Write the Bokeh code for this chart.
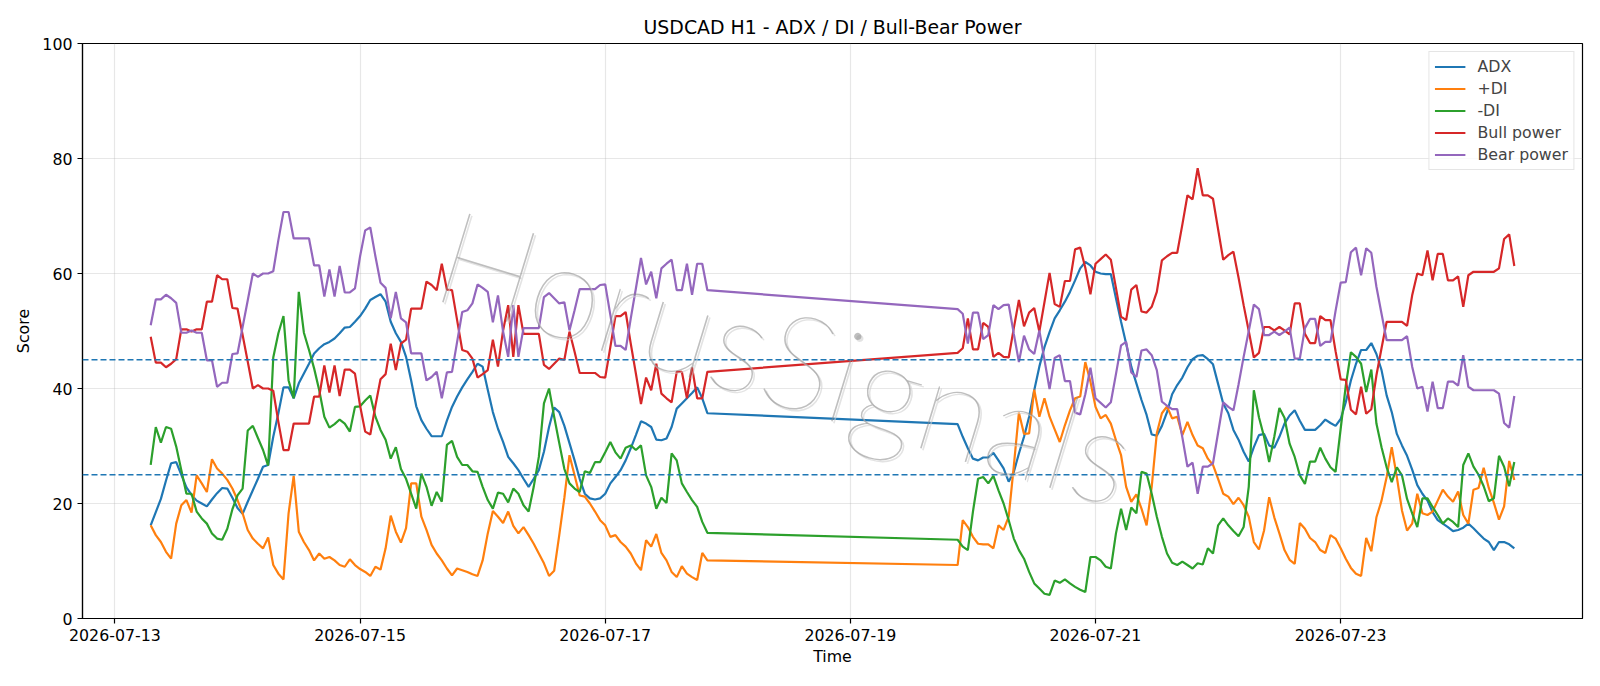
import pandas as pd
from bokeh.plotting import figure
from bokeh.models import Range1d, FixedTicker, DatetimeTickFormatter, Span, Label
from bokeh.embed import file_html
from bokeh.resources import INLINE

# ---------------- data ----------------
chart_title = "USDCAD H1 - ADX / DI / Bull-Bear Power"
series_names = ["ADX", "+DI", "-DI", "Bull power", "Bear power"]
series_colors = ["#1f77b4", "#ff7f0e", "#2ca02c", "#d62728", "#9467bd"]
watermark_text = "HorusSignals"

# hourly bars: weekday session 1 and session 2 (weekend gap between)
seg1_start = "2026-07-13 07:00"
seg2_start = "2026-07-19 21:00"

adx1 = [16.2, 18.5, 20.8, 24.0, 27.0, 27.2, 25.0, 22.8, 21.5, 20.5,
        20.0, 19.5, 20.7, 21.8, 22.7, 22.6, 21.0, 19.2, 18.2, 20.3,
        22.3, 24.3, 26.4, 26.7, 31.6, 35.7, 40.2, 40.2, 38.3, 40.9,
        42.6, 44.3, 46.1, 47.0, 47.7, 48.1, 48.7, 49.6, 50.6, 50.7,
        51.6, 52.6, 53.9, 55.4, 55.9, 56.4, 55.1, 51.6, 49.6, 48.1,
        45.5, 41.4, 36.9, 34.5, 33.0, 31.7, 31.7, 31.7, 34.4, 36.8,
        38.6, 40.2, 41.6, 42.9, 44.3, 43.8, 39.8, 35.9, 33.0, 30.7,
        28.1, 27.0, 25.8, 24.3, 22.9, 24.3, 25.8, 29.0, 33.3, 36.7,
        35.9, 33.5, 30.5, 27.5, 24.3, 21.7, 20.9, 20.7, 20.9, 21.7,
        23.5, 24.6, 25.8, 27.5, 29.6, 31.9, 34.3, 33.9, 33.3, 31.1,
        31.0, 31.3, 33.3, 36.5, 37.4, 38.3, 39.2, 40.2, 38.3, 35.7]
adx2 = [33.8, 31.6, 29.6, 27.8, 27.5, 28.0, 28.0, 28.8, 27.5, 26.1,
        23.8, 25.5, 28.7, 31.6, 35.1, 39.7, 43.8, 47.2, 49.8, 52.2,
        53.6, 55.1, 56.8, 58.8, 60.9, 62.0, 61.4, 60.3, 60.0, 59.9,
        59.9, 55.7, 51.6, 47.8, 43.8, 40.9, 38.0, 35.4, 32.0, 31.8,
        33.5, 35.9, 39.0, 40.6, 41.9, 43.7, 45.1, 45.7, 45.8, 45.1,
        44.2, 40.8, 37.4, 35.7, 32.8, 31.1, 29.0, 27.3, 29.8, 31.9,
        32.1, 30.1, 29.7, 31.6, 33.9, 35.3, 36.2, 34.4, 32.8, 32.8,
        32.8, 33.6, 34.6, 34.0, 33.5, 34.7, 37.6, 41.4, 44.3, 46.7,
        46.7, 47.9, 46.0, 43.2, 38.8, 35.9, 32.1, 30.1, 28.3, 25.9,
        23.2, 21.7, 20.5, 18.5, 17.1, 16.5, 15.9, 15.2, 15.4, 15.8,
        16.5, 15.7, 14.8, 13.9, 13.3, 11.9, 13.3, 13.3, 12.9, 12.2]

pdi1 = [16.2, 14.5, 13.3, 11.6, 10.4, 16.5, 19.7, 20.6, 18.4, 24.9,
        23.5, 22.0, 27.7, 26.1, 25.2, 24.1, 22.6, 20.6, 18.3, 15.4,
        13.9, 13.0, 12.2, 14.1, 9.3, 7.8, 6.8, 18.3, 24.8, 15.1,
        13.3, 11.9, 10.1, 11.3, 10.4, 10.7, 10.1, 9.3, 9.0, 10.3,
        9.3, 8.6, 8.1, 7.4, 9.0, 8.5, 12.2, 17.9, 15.1, 13.2,
        15.7, 23.5, 23.5, 17.7, 15.4, 12.8, 11.3, 10.1, 8.7, 7.5,
        8.7, 8.4, 8.1, 7.7, 7.4, 10.1, 14.8, 18.7, 17.7, 16.6,
        18.6, 16.1, 14.8, 15.9, 14.5, 13.0, 11.3, 9.6, 7.4, 8.3,
        14.5, 21.0, 28.4, 24.9, 21.4, 21.2, 20.0, 18.6, 17.1, 16.2,
        14.2, 14.5, 13.3, 12.5, 11.3, 9.6, 8.4, 13.6, 12.5, 14.7,
        11.4, 10.1, 8.1, 7.2, 9.1, 7.8, 7.2, 6.7, 11.4, 10.1]
pdi2 = [9.3, 17.1, 15.9, 14.2, 13.0, 12.9, 12.9, 12.2, 16.2, 15.4,
        17.7, 26.5, 35.8, 32.1, 32.2, 39.8, 35.1, 38.3, 35.1, 32.9,
        30.7, 33.6, 36.2, 38.3, 38.6, 44.6, 41.2, 36.8, 34.8, 35.4,
        33.9, 31.0, 28.4, 22.9, 20.3, 21.6, 19.1, 16.2, 22.9, 32.2,
        35.7, 36.9, 34.8, 35.1, 31.9, 34.2, 31.9, 30.1, 29.6, 27.8,
        26.7, 24.3, 21.7, 21.2, 19.9, 21.0, 19.7, 17.7, 13.3, 12.0,
        15.3, 21.1, 17.6, 14.8, 11.9, 10.2, 9.5, 16.6, 15.6, 14.0,
        13.3, 11.9, 11.4, 14.5, 13.9, 12.2, 10.4, 8.8, 7.8, 7.4,
        14.0, 11.7, 17.6, 20.5, 24.6, 29.8, 24.6, 18.8, 15.3, 16.5,
        21.7, 18.3, 18.0, 18.6, 20.5, 22.4, 21.2, 20.3, 22.1, 18.0,
        16.5, 22.4, 22.7, 26.2, 22.7, 20.1, 17.2, 19.5, 27.4, 24.1]

mdi1 = [26.7, 33.3, 30.6, 33.3, 33.0, 29.9, 25.8, 21.7, 21.7, 18.6,
        17.4, 16.5, 14.8, 13.9, 13.7, 15.6, 19.0, 21.4, 22.6, 32.7,
        33.5, 31.4, 29.3, 26.6, 45.4, 49.6, 52.6, 41.4, 38.3, 56.8,
        49.7, 46.7, 43.5, 39.7, 35.1, 33.2, 33.8, 34.6, 33.9, 32.5,
        36.8, 36.9, 37.9, 38.8, 35.1, 32.8, 31.1, 27.8, 29.8, 26.0,
        24.3, 21.7, 19.1, 25.2, 22.9, 19.6, 22.0, 20.3, 30.2, 30.9,
        28.1, 26.7, 26.7, 25.6, 25.5, 22.9, 20.6, 19.1, 21.9, 21.7,
        20.2, 22.6, 21.7, 19.7, 18.6, 22.9, 28.1, 37.4, 40.0, 35.1,
        30.5, 26.0, 23.5, 22.6, 22.0, 25.6, 25.3, 27.2, 27.2, 28.9,
        30.7, 28.9, 27.8, 29.7, 30.1, 29.3, 30.1, 24.9, 22.9, 19.1,
        21.0, 20.1, 28.7, 27.5, 23.5, 22.0, 20.6, 19.4, 16.8, 14.9]
mdi2 = [13.7, 12.5, 11.9, 18.6, 24.3, 24.6, 23.5, 24.8, 22.3, 20.0,
        17.1, 13.9, 11.9, 10.4, 8.1, 6.1, 5.2, 4.3, 4.1, 6.6,
        6.2, 6.8, 6.1, 5.5, 5.0, 4.6, 10.7, 10.7, 10.1, 9.0,
        8.7, 14.8, 19.1, 15.4, 19.3, 18.3, 25.5, 25.2, 21.7, 17.7,
        14.2, 11.3, 9.7, 9.3, 9.9, 9.3, 8.7, 9.6, 9.4, 12.2,
        11.3, 16.2, 17.4, 16.2, 15.2, 14.3, 15.9, 22.9, 39.7, 35.0,
        31.6, 27.2, 31.6, 36.6, 34.9, 30.4, 28.1, 24.9, 23.4, 27.3,
        27.3, 29.7, 27.8, 26.3, 25.5, 33.0, 40.5, 46.3, 45.5, 44.3,
        39.4, 43.3, 33.9, 29.8, 26.3, 23.7, 26.3, 24.9, 20.8, 18.3,
        15.9, 20.9, 20.9, 19.4, 18.0, 16.5, 17.4, 16.8, 15.9, 26.7,
        28.7, 26.4, 25.0, 23.0, 20.4, 20.9, 28.3, 26.4, 23.0, 27.2]

bull1 = [49.0, 44.5, 44.5, 43.7, 44.3, 45.1, 50.3, 50.3, 49.9, 50.3,
         50.3, 55.1, 55.1, 59.7, 59.0, 59.0, 54.0, 53.9, 49.3, 44.7,
         40.0, 40.6, 40.0, 40.0, 39.6, 34.2, 29.3, 29.3, 33.9, 33.9,
         33.9, 33.9, 38.6, 38.6, 44.0, 39.3, 44.0, 38.7, 43.3, 43.3,
         42.6, 37.0, 32.5, 32.0, 37.0, 41.6, 42.5, 47.8, 43.2, 47.8,
         48.5, 53.9, 53.9, 53.9, 58.6, 58.0, 57.1, 61.7, 57.2, 57.1,
         51.9, 46.7, 46.4, 45.2, 41.9, 42.5, 43.2, 48.5, 43.8, 50.1,
         54.5, 45.5, 54.5, 49.5, 49.5, 49.5, 49.5, 44.1, 43.4, 44.3,
         45.2, 45.0, 49.9, 46.4, 42.7, 42.7, 42.7, 42.7, 42.0, 41.9,
         47.2, 52.6, 52.6, 53.3, 47.8, 42.6, 37.3, 41.9, 39.7, 44.3,
         39.1, 38.3, 37.6, 42.9, 42.9, 38.3, 43.7, 38.3, 38.3, 42.9]
bull2 = [46.2, 47.0, 52.2, 46.8, 46.8, 51.4, 50.7, 45.5, 46.2, 45.5,
         45.4, 50.5, 55.4, 50.8, 53.2, 54.0, 49.9, 55.0, 60.1, 54.7,
         54.2, 58.7, 58.7, 64.2, 64.5, 61.0, 56.4, 61.7, 62.5, 63.3,
         62.4, 57.5, 52.5, 51.9, 57.2, 58.0, 53.4, 53.2, 54.2, 56.8,
         62.3, 63.0, 63.6, 63.6, 68.5, 73.6, 72.9, 78.3, 73.6, 73.6,
         73.0, 67.7, 62.4, 63.2, 63.8, 59.3, 54.5, 50.0, 45.4, 46.2,
         50.7, 50.7, 50.1, 50.7, 50.1, 49.4, 54.8, 54.8, 49.5, 47.9,
         47.9, 52.6, 51.9, 51.9, 46.5, 41.6, 41.5, 36.3, 35.5, 40.3,
         35.6, 36.4, 42.3, 47.0, 51.6, 51.6, 51.6, 51.6, 50.9, 56.2,
         60.0, 59.7, 64.0, 58.8, 63.4, 63.4, 58.8, 58.8, 59.5, 54.2,
         59.7, 60.3, 60.3, 60.3, 60.3, 60.3, 60.9, 66.0, 66.8, 61.3]

bear1 = [51.0, 55.5, 55.5, 56.3, 55.7, 54.9, 49.7, 49.7, 50.1, 49.7,
         49.7, 44.9, 44.9, 40.3, 41.0, 41.0, 46.0, 46.1, 50.7, 55.3,
         60.0, 59.4, 60.0, 60.0, 60.4, 65.8, 70.7, 70.7, 66.1, 66.1,
         66.1, 66.1, 61.4, 61.4, 56.0, 60.7, 56.0, 61.3, 56.7, 56.7,
         57.4, 63.0, 67.5, 68.0, 63.0, 58.4, 57.5, 52.2, 56.8, 52.2,
         51.5, 46.1, 46.1, 46.1, 41.4, 42.0, 42.9, 38.3, 42.8, 42.9,
         48.1, 53.3, 53.6, 54.8, 58.1, 57.5, 56.8, 51.5, 56.2, 49.9,
         45.5, 54.5, 45.5, 50.5, 50.5, 50.5, 50.5, 55.9, 56.6, 55.7,
         54.8, 55.0, 50.1, 53.6, 57.3, 57.3, 57.3, 57.3, 58.0, 58.1,
         52.8, 47.4, 47.4, 46.7, 52.2, 57.4, 62.7, 58.1, 60.3, 55.7,
         60.9, 61.7, 62.4, 57.1, 57.1, 61.7, 56.3, 61.7, 61.7, 57.1]
bear2 = [53.8, 53.0, 47.8, 53.2, 53.2, 48.6, 49.3, 54.5, 53.8, 54.5,
         54.6, 49.5, 44.6, 49.2, 46.8, 46.0, 50.1, 45.0, 39.9, 45.3,
         45.8, 41.3, 41.3, 35.8, 35.5, 39.0, 43.6, 38.3, 37.5, 36.7,
         37.6, 42.5, 47.5, 48.1, 42.8, 42.0, 46.6, 46.8, 45.8, 43.2,
         37.7, 37.0, 36.4, 36.4, 31.5, 26.4, 27.1, 21.7, 26.4, 26.4,
         27.0, 32.3, 37.6, 36.8, 36.2, 40.7, 45.5, 50.0, 54.6, 53.8,
         49.3, 49.3, 49.9, 49.3, 49.9, 50.6, 45.2, 45.2, 50.5, 52.1,
         52.1, 47.4, 48.1, 48.1, 53.5, 58.4, 58.5, 63.7, 64.5, 59.7,
         64.4, 63.6, 57.7, 53.0, 48.4, 48.4, 48.4, 48.4, 49.1, 43.8,
         40.0, 40.3, 36.0, 41.2, 36.6, 36.6, 41.2, 41.2, 40.5, 45.8,
         40.3, 39.7, 39.7, 39.7, 39.7, 39.7, 39.1, 34.0, 33.2, 38.7]

tick_dates = ["2026-07-13", "2026-07-15", "2026-07-17",
              "2026-07-19", "2026-07-21", "2026-07-23"]
y_ticks = [0, 20, 40, 60, 80, 100]
threshold_levels = [45, 25]

# ---------------- build ----------------
t1 = pd.date_range(seg1_start, periods=len(adx1), freq="h")
t2 = pd.date_range(seg2_start, periods=len(adx2), freq="h")
times = t1.append(t2)
series = [adx1 + adx2, pdi1 + pdi2, mdi1 + mdi2, bull1 + bull2, bear1 + bear2]


def ms(ts):
    return pd.Timestamp(ts).value / 1e6


span_ms = ms(times[-1]) - ms(times[0])
x_start = ms(times[0]) - 0.05 * span_ms
x_end = ms(times[-1]) + 0.05 * span_ms

FONT = "DejaVu Sans"

p = figure(width=1600, height=686, x_axis_type="datetime",
           x_range=Range1d(x_start, x_end), y_range=Range1d(0, 100),
           output_backend="svg", toolbar_location=None,
           min_border_left=82, min_border_right=18,
           min_border_top=43, min_border_bottom=68,
           title=chart_title)
p.background_fill_color = "white"
p.border_fill_color = "white"
p.outline_line_color = "black"
p.outline_line_width = 1.2

p.title.text_font = FONT
p.title.text_font_size = "18.9px"
p.title.text_font_style = "normal"
p.title.text_color = "black"
p.title.align = "center"
p.title.standoff = 11

for name, col, vals in zip(series_names, series_colors, series):
    p.line(x=list(times), y=vals, line_color=col, line_width=2.2,
           legend_label=name)

for lvl in threshold_levels:
    p.add_layout(Span(location=lvl, dimension="width", line_color="#1f77b4",
                      line_width=1.5, line_dash="6 3"))

xt = FixedTicker(ticks=[ms(d) for d in tick_dates])
p.xaxis.ticker = xt
p.xgrid.ticker = xt
p.xaxis.formatter = DatetimeTickFormatter(
    days="%Y-%m-%d", months="%Y-%m-%d", hours="%Y-%m-%d",
    hourmin="%Y-%m-%d", minutes="%Y-%m-%d", years="%Y-%m-%d")
yt = FixedTicker(ticks=y_ticks)
p.yaxis.ticker = yt
p.ygrid.ticker = yt

for ax in [p.xaxis[0], p.yaxis[0]]:
    ax.axis_line_color = "black"
    ax.axis_line_width = 1.2
    ax.major_tick_line_color = "black"
    ax.major_tick_line_width = 1.2
    ax.major_tick_in = 0
    ax.major_tick_out = 5
    ax.minor_tick_line_color = None
    ax.major_label_text_font = FONT
    ax.major_label_text_font_size = "15.8px"
    ax.major_label_text_color = "black"
    ax.major_label_standoff = 5
    ax.axis_label_text_font = FONT
    ax.axis_label_text_font_size = "15.8px"
    ax.axis_label_text_font_style = "normal"
    ax.axis_label_text_color = "black"
p.xaxis[0].axis_label_standoff = 3
p.yaxis[0].axis_label_standoff = 6
p.xaxis.axis_label = "Time"
p.yaxis.axis_label = "Score"

for g in [p.xgrid[0], p.ygrid[0]]:
    g.grid_line_color = "#b0b0b0"
    g.grid_line_alpha = 0.3
    g.grid_line_width = 1.2

# watermark: soft shadow + thin grey text
wm_x = ms("2026-07-18 11:30")
wm_y = 46.0
shadow = Label(x=wm_x, y=wm_y, x_offset=2, y_offset=-2, text=watermark_text,
               angle=-17, angle_units="deg", text_align="center",
               text_baseline="middle", text_font="Lato Hairline",
               text_font_size="132px", text_color="#d0d0d0", text_alpha=0.6)
wm = Label(x=wm_x, y=wm_y, text=watermark_text,
           angle=-17, angle_units="deg", text_align="center",
           text_baseline="middle", text_font="Lato Hairline",
           text_font_size="132px", text_color="#8a8a8a", text_alpha=0.55)
p.add_layout(shadow)
p.add_layout(wm)

lg = p.legend[0]
lg.location = "top_right"
lg.margin = 8
lg.padding = 5
lg.spacing = 3
lg.glyph_width = 31
lg.glyph_height = 19
lg.label_height = 19
lg.label_standoff = 12
lg.label_text_font = FONT
lg.label_text_font_size = "15.8px"
lg.border_line_color = "#cccccc"
lg.border_line_width = 1
lg.background_fill_alpha = 0.8

open("out.html", "w").write(file_html(p, INLINE))
